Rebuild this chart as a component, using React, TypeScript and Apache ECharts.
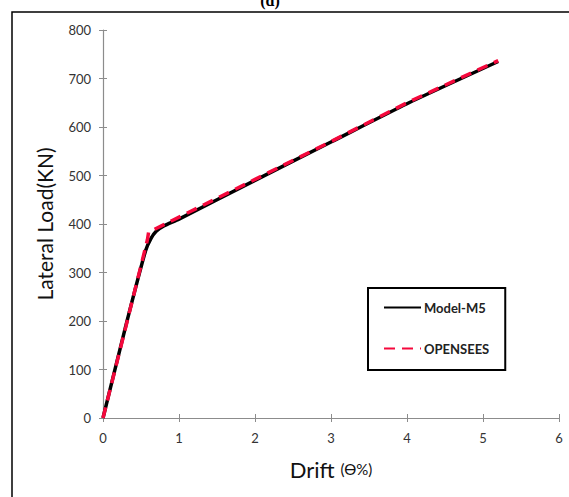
import React, { useEffect, useRef } from "react";
import * as echarts from "echarts";

const xTicks = [0, 1, 2, 3, 4, 5, 6];
const yTicks = [0, 100, 200, 300, 400, 500, 600, 700, 800];

const modelDrift = [0, 0.3, 0.56, 0.63, 0.7, 0.8, 1.0, 2.0, 3.0, 4.0, 5.2];
const modelLoad = [0, 190, 345, 370, 385, 396, 410, 490, 569, 648, 735];

const openDrift = [0, 0.3, 0.585, 0.6, 2.0, 3.0, 4.0, 5.2];
const openLoad = [0, 188, 368, 383, 492, 570, 650, 737];

export default function App() {
  const ref = useRef<HTMLDivElement>(null);
  useEffect(() => {
    if (!ref.current) return;
    const chart = echarts.init(ref.current, undefined, { renderer: "svg" });
    const axisGray = "#8c8c8c";
    const labelColor = "#333333";
    const font = "Lato";
    chart.setOption({
      animation: false,
      backgroundColor: "#ffffff",
      grid: { left: 103, right: 10, top: 30, bottom: 79 },
      graphic: [
        {
          type: "rect",
          shape: { x: 12, y: 12, width: 700, height: 700 },
          style: { fill: "none", stroke: "#000", lineWidth: 1.5 },
          silent: true,
        },
        {
          type: "text",
          x: 270,
          y: -8,
          style: {
            text: "(d)",
            font: "bold 16px 'Liberation Serif'",
            fill: "#000",
            textAlign: "center",
          },
        },
      ],
      legend: {
        left: 368,
        top: 288,
        orient: "vertical",
        backgroundColor: "#fff",
        borderColor: "#000",
        borderWidth: 2,
        padding: [13, 16, 15, 15],
        itemGap: 28,
        itemWidth: 37,
        itemHeight: 14,
        itemStyle: { opacity: 0 },
        textStyle: { fontFamily: font, fontWeight: "bold", fontSize: 13, color: "#222", padding: [0, 0, 0, -2] },
        data: ["Model-M5", "OPENSEES"],
      },
      xAxis: [
        {
          type: "value",
          min: 0,
          max: 6,
          interval: 1,
          name: "{a|Drift}{b|(ϴ%)}",
          nameLocation: "middle",
          nameGap: 40,
          nameTextStyle: {
            rich: {
              a: { fontFamily: font, fontSize: 22, color: "#111" },
              b: { fontFamily: font, fontSize: 15, color: "#111", padding: [0, 0, 0, 6] },
            },
          },
          axisLine: { lineStyle: { color: axisGray, width: 1.2 } },
          axisTick: { length: 4, lineStyle: { color: axisGray } },
          axisLabel: { color: labelColor, fontFamily: font, fontSize: 13, margin: 13 },
          splitLine: { show: false },
        },
        {
          type: "value",
          min: 0,
          max: 6,
          interval: 1,
          position: "bottom",
          axisLine: { show: false },
          axisTick: { inside: true, length: 4, lineStyle: { color: axisGray } },
          axisLabel: { show: false },
          splitLine: { show: false },
        },
      ],
      yAxis: [
        {
          type: "value",
          min: 0,
          max: 800,
          interval: 100,
          name: "Lateral Load(KN)",
          nameLocation: "middle",
          nameGap: 48,
          nameTextStyle: { fontFamily: font, fontSize: 21, color: "#111" },
          axisLine: { show: true, lineStyle: { color: axisGray, width: 1.2 } },
          axisTick: { show: true, length: 4, lineStyle: { color: axisGray } },
          axisLabel: { color: labelColor, fontFamily: font, fontSize: 13, margin: 12 },
          splitLine: { show: false },
        },
        {
          type: "value",
          min: 0,
          max: 800,
          interval: 100,
          position: "left",
          axisLine: { show: false },
          axisTick: { show: true, inside: true, length: 4, lineStyle: { color: axisGray } },
          axisLabel: { show: false },
          splitLine: { show: false },
        },
      ],
      series: [
        {
          name: "Model-M5",
          type: "line",
          symbol: "none",
          smooth: 0.2,
          data: modelDrift.map((d, i) => [d, modelLoad[i]]),
          lineStyle: { color: "#000", width: 3.5 },
          itemStyle: { color: "#000" },
          z: 2,
        },
        {
          name: "OPENSEES",
          type: "line",
          symbol: "none",
          data: openDrift.map((d, i) => [d, openLoad[i]]),
          lineStyle: { color: "#f5083c", width: 3.5, type: [11, 7] },
          itemStyle: { color: "#f5083c" },
          z: 3,
        },
      ],
    });
    return () => chart.dispose();
  }, []);
  return <div ref={ref} style={{ width: 569, height: 497, position: "absolute", left: 0, top: 0 }} />;
}
